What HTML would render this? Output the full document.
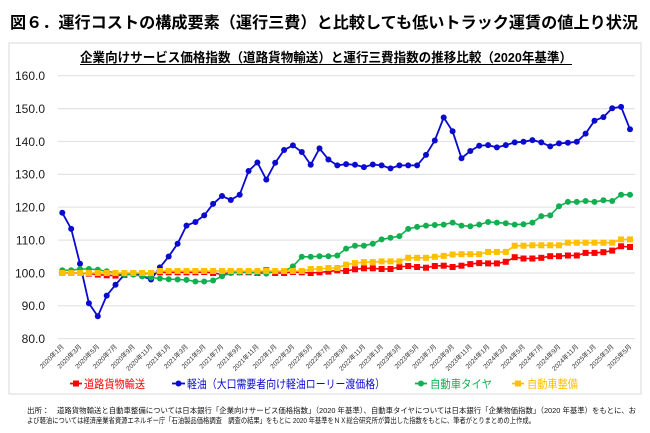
<!DOCTYPE html>
<html>
<head>
<meta charset="utf-8">
<style>
html,body{margin:0;padding:0;background:#fff;}
svg{display:block;}
text{font-family:"Liberation Sans","Noto Sans CJK JP",sans-serif;}
</style>
</head>
<body>
<svg width="650" height="433" viewBox="0 0 650 433" xmlns="http://www.w3.org/2000/svg">
<defs>
<marker id="mb" markerUnits="userSpaceOnUse" markerWidth="8" markerHeight="8" refX="4" refY="4"><circle cx="4" cy="4" r="3" fill="#0a0ad0"/></marker>
<marker id="mg" markerUnits="userSpaceOnUse" markerWidth="8" markerHeight="8" refX="4" refY="4"><circle cx="4" cy="4" r="3" fill="#10b050"/></marker>
<marker id="mr" markerUnits="userSpaceOnUse" markerWidth="8" markerHeight="8" refX="4" refY="4"><rect x="1" y="1" width="6" height="6" fill="#ff0000"/></marker>
<marker id="my" markerUnits="userSpaceOnUse" markerWidth="8" markerHeight="8" refX="4" refY="4"><rect x="1" y="1" width="6" height="6" fill="#ffc000"/></marker>
</defs>

<!-- Title -->
<text x="10" y="28" font-size="16" font-weight="bold" fill="#000" textLength="628" lengthAdjust="spacingAndGlyphs">図６．運行コストの構成要素（運行三費）と比較しても低いトラック運賃の値上り状況</text>

<!-- Chart box -->
<rect x="9" y="43" width="632" height="351" fill="#fff" stroke="#d9d9d9" stroke-width="1"/>

<!-- Subtitle -->
<text x="80" y="62" font-size="13" font-weight="bold" fill="#000" textLength="492" lengthAdjust="spacingAndGlyphs">企業向けサービス価格指数（道路貨物輸送）と運行三費指数の推移比較（2020年基準）</text>
<line x1="80" y1="64.5" x2="572" y2="64.5" stroke="#000" stroke-width="1"/>

<!-- Gridlines -->
<g stroke="#e3e3e3" stroke-width="1.2">
<line x1="58" y1="75.7" x2="635" y2="75.7"/>
<line x1="58" y1="108.6" x2="635" y2="108.6"/>
<line x1="58" y1="141.5" x2="635" y2="141.5"/>
<line x1="58" y1="174.4" x2="635" y2="174.4"/>
<line x1="58" y1="207.2" x2="635" y2="207.2"/>
<line x1="58" y1="240.1" x2="635" y2="240.1"/>
<line x1="58" y1="273.0" x2="635" y2="273.0"/>
<line x1="58" y1="305.8" x2="635" y2="305.8"/>
<line x1="58" y1="338.7" x2="635" y2="338.7"/>
</g>

<!-- Y labels -->
<g font-size="12" fill="#1a1a1a" text-anchor="end">
<text x="45" y="80">160.0</text>
<text x="45" y="112.9">150.0</text>
<text x="45" y="145.8">140.0</text>
<text x="45" y="178.7">130.0</text>
<text x="45" y="211.5">120.0</text>
<text x="45" y="244.4">110.0</text>
<text x="45" y="277.3">100.0</text>
<text x="45" y="310.1">90.0</text>
<text x="45" y="343">80.0</text>
</g>

<!-- X labels -->
<g font-size="6.5" fill="#333" text-anchor="end">
<text transform="translate(64.3,347) rotate(-45)">2020年1月</text>
<text transform="translate(82.0,347) rotate(-45)">2020年3月</text>
<text transform="translate(99.8,347) rotate(-45)">2020年5月</text>
<text transform="translate(117.5,347) rotate(-45)">2020年7月</text>
<text transform="translate(135.3,347) rotate(-45)">2020年9月</text>
<text transform="translate(153.0,347) rotate(-45)">2020年11月</text>
<text transform="translate(170.7,347) rotate(-45)">2021年1月</text>
<text transform="translate(188.5,347) rotate(-45)">2021年3月</text>
<text transform="translate(206.2,347) rotate(-45)">2021年5月</text>
<text transform="translate(224.0,347) rotate(-45)">2021年7月</text>
<text transform="translate(241.7,347) rotate(-45)">2021年9月</text>
<text transform="translate(259.4,347) rotate(-45)">2021年11月</text>
<text transform="translate(277.2,347) rotate(-45)">2022年1月</text>
<text transform="translate(294.9,347) rotate(-45)">2022年3月</text>
<text transform="translate(312.7,347) rotate(-45)">2022年5月</text>
<text transform="translate(330.4,347) rotate(-45)">2022年7月</text>
<text transform="translate(348.1,347) rotate(-45)">2022年9月</text>
<text transform="translate(365.9,347) rotate(-45)">2022年11月</text>
<text transform="translate(383.6,347) rotate(-45)">2023年1月</text>
<text transform="translate(401.4,347) rotate(-45)">2023年3月</text>
<text transform="translate(419.1,347) rotate(-45)">2023年5月</text>
<text transform="translate(436.8,347) rotate(-45)">2023年7月</text>
<text transform="translate(454.6,347) rotate(-45)">2023年9月</text>
<text transform="translate(472.3,347) rotate(-45)">2023年11月</text>
<text transform="translate(490.1,347) rotate(-45)">2024年1月</text>
<text transform="translate(507.8,347) rotate(-45)">2024年3月</text>
<text transform="translate(525.5,347) rotate(-45)">2024年5月</text>
<text transform="translate(543.3,347) rotate(-45)">2024年7月</text>
<text transform="translate(561.0,347) rotate(-45)">2024年9月</text>
<text transform="translate(578.8,347) rotate(-45)">2024年11月</text>
<text transform="translate(596.5,347) rotate(-45)">2025年1月</text>
<text transform="translate(614.2,347) rotate(-45)">2025年3月</text>
<text transform="translate(632.0,347) rotate(-45)">2025年5月</text>
</g>

<!-- Series: red -->
<polyline fill="none" stroke="#ff0000" stroke-width="1.6" marker-start="url(#mr)" marker-mid="url(#mr)" marker-end="url(#mr)" points="62.3,273.0 71.2,273.0 80.0,273.0 88.9,273.6 97.8,274.6 106.7,275.3 115.5,275.6 124.4,274.9 133.3,273.6 142.1,273.6 151.0,273.3 159.9,272.3 168.7,272.3 177.6,272.3 186.5,272.3 195.4,272.3 204.2,272.0 213.1,273.0 222.0,274.3 230.8,272.3 239.7,272.3 248.6,272.3 257.4,273.0 266.3,270.3 275.2,273.0 284.1,273.0 292.9,272.0 301.8,272.3 310.7,273.0 319.5,272.3 328.4,271.6 337.3,270.3 346.1,271.0 355.0,269.3 363.9,268.3 372.8,268.3 381.6,269.0 390.5,269.0 399.4,267.0 408.2,266.0 417.1,267.0 426.0,267.7 434.8,266.0 443.7,265.7 452.6,267.0 461.5,265.7 470.3,264.1 479.2,263.1 488.1,263.4 496.9,263.4 505.8,261.8 514.7,257.2 523.5,258.5 532.4,258.5 541.3,257.8 550.2,256.2 559.0,256.2 567.9,255.5 576.8,255.5 585.6,252.9 594.5,252.9 603.4,252.2 612.2,250.6 621.1,246.3 630.0,247.0"/>

<!-- Series: blue -->
<polyline fill="none" stroke="#0a0ad0" stroke-width="1.8" marker-start="url(#mb)" marker-mid="url(#mb)" marker-end="url(#mb)" points="62.3,212.8 71.2,228.9 80.0,263.8 88.9,303.2 97.8,316.3 106.7,295.6 115.5,284.8 124.4,274.6 133.3,273.0 142.1,276.2 151.0,279.5 159.9,267.4 168.7,256.5 177.6,243.7 186.5,225.6 195.4,222.0 204.2,215.4 213.1,203.9 222.0,196.0 230.8,200.0 239.7,194.7 248.6,171.0 257.4,162.5 266.3,179.6 275.2,162.8 284.1,150.0 292.9,145.4 301.8,152.0 310.7,164.8 319.5,148.4 328.4,159.5 337.3,165.4 346.1,164.1 355.0,164.8 363.9,167.1 372.8,164.5 381.6,165.4 390.5,168.4 399.4,165.4 408.2,165.4 417.1,165.4 426.0,154.9 434.8,140.5 443.7,117.5 452.6,131.3 461.5,158.2 470.3,151.0 479.2,145.7 488.1,145.1 496.9,147.4 505.8,145.1 514.7,142.4 523.5,141.8 532.4,140.1 541.3,142.4 550.2,146.4 559.0,143.4 567.9,142.8 576.8,141.8 585.6,133.6 594.5,120.7 603.4,117.1 612.2,108.2 621.1,106.9 630.0,129.3"/>

<!-- Series: green -->
<polyline fill="none" stroke="#10b050" stroke-width="1.6" marker-start="url(#mg)" marker-mid="url(#mg)" marker-end="url(#mg)" points="62.3,270.3 71.2,270.3 80.0,269.0 88.9,269.0 97.8,269.7 106.7,271.3 115.5,273.0 124.4,274.6 133.3,274.6 142.1,276.2 151.0,277.5 159.9,278.5 168.7,279.2 177.6,279.5 186.5,279.9 195.4,281.5 204.2,281.5 213.1,280.5 222.0,276.2 230.8,273.0 239.7,272.3 248.6,272.3 257.4,273.0 266.3,273.6 275.2,271.3 284.1,271.3 292.9,266.4 301.8,256.8 310.7,256.8 319.5,256.2 328.4,256.2 337.3,255.5 346.1,248.6 355.0,245.7 363.9,245.7 372.8,243.7 381.6,239.4 390.5,237.8 399.4,236.1 408.2,228.9 417.1,226.9 426.0,225.6 434.8,225.0 443.7,224.6 452.6,222.6 461.5,225.6 470.3,226.3 479.2,224.6 488.1,222.0 496.9,222.6 505.8,223.3 514.7,224.6 523.5,224.3 532.4,222.6 541.3,216.1 550.2,215.4 559.0,206.2 567.9,201.9 576.8,201.9 585.6,201.0 594.5,201.9 603.4,200.3 612.2,201.0 621.1,194.7 630.0,194.7"/>

<!-- Series: yellow -->
<polyline fill="none" stroke="#ffc000" stroke-width="1.6" marker-start="url(#my)" marker-mid="url(#my)" marker-end="url(#my)" points="62.3,273.0 71.2,273.0 80.0,273.0 88.9,273.0 97.8,273.0 106.7,273.0 115.5,273.0 124.4,273.0 133.3,273.0 142.1,273.0 151.0,273.0 159.9,271.0 168.7,271.0 177.6,271.0 186.5,271.0 195.4,271.0 204.2,271.0 213.1,271.0 222.0,271.0 230.8,271.0 239.7,271.0 248.6,271.0 257.4,271.0 266.3,271.0 275.2,271.0 284.1,271.0 292.9,271.0 301.8,271.0 310.7,269.0 319.5,269.0 328.4,268.0 337.3,268.0 346.1,264.7 355.0,263.1 363.9,262.1 372.8,262.1 381.6,261.4 390.5,261.4 399.4,261.4 408.2,257.8 417.1,257.8 426.0,257.8 434.8,256.8 443.7,255.9 452.6,254.5 461.5,254.2 470.3,254.2 479.2,254.2 488.1,251.9 496.9,251.9 505.8,251.9 514.7,245.7 523.5,245.7 532.4,245.3 541.3,245.3 550.2,245.3 559.0,245.3 567.9,242.7 576.8,242.7 585.6,242.7 594.5,242.7 603.4,242.7 612.2,242.7 621.1,239.4 630.0,239.4"/>

<!-- Legend -->
<g font-size="11.5">
<line x1="70" y1="383.5" x2="82" y2="383.5" stroke="#ff0000" stroke-width="1.8"/>
<rect x="73" y="380.5" width="6" height="6" fill="#ff0000"/>
<text x="84" y="388" fill="#ff0000" textLength="61" lengthAdjust="spacingAndGlyphs">道路貨物輸送</text>

<line x1="172" y1="383.5" x2="185" y2="383.5" stroke="#0a0ad0" stroke-width="1.8"/>
<circle cx="178.5" cy="383.5" r="3" fill="#0a0ad0"/>
<text x="187" y="388" fill="#0a0ad0" textLength="198" lengthAdjust="spacingAndGlyphs">軽油（大口需要者向け軽油ローリー渡価格）</text>

<line x1="415" y1="383.5" x2="427" y2="383.5" stroke="#10b050" stroke-width="1.8"/>
<circle cx="421" cy="383.5" r="3" fill="#10b050"/>
<text x="430" y="388" fill="#10b050" textLength="62" lengthAdjust="spacingAndGlyphs">自動車タイヤ</text>

<line x1="512" y1="383.5" x2="524" y2="383.5" stroke="#ffc000" stroke-width="1.8"/>
<rect x="515" y="380.5" width="6" height="6" fill="#ffc000"/>
<text x="527" y="388" fill="#ffc000" textLength="51" lengthAdjust="spacingAndGlyphs">自動車整備</text>
</g>

<!-- Footnote -->
<g font-size="7.5" fill="#111">
<text x="27" y="413">出所：</text>
<text x="57" y="413" textLength="579" lengthAdjust="spacingAndGlyphs">道路貨物輸送と自動車整備については日本銀行「企業向けサービス価格指数」（2020 年基準）、自動車タイヤについては日本銀行「企業物価指数」（2020 年基準）をもとに、お</text>
<text x="27" y="423" textLength="508" lengthAdjust="spacingAndGlyphs">よび軽油については経済産業省資源エネルギー庁「石油製品価格調査　調査の結果」をもとに 2020 年基準をＮＸ総合研究所が算出した指数をもとに、筆者がとりまとめの上作成。</text>
</g>
</svg>
</body>
</html>
